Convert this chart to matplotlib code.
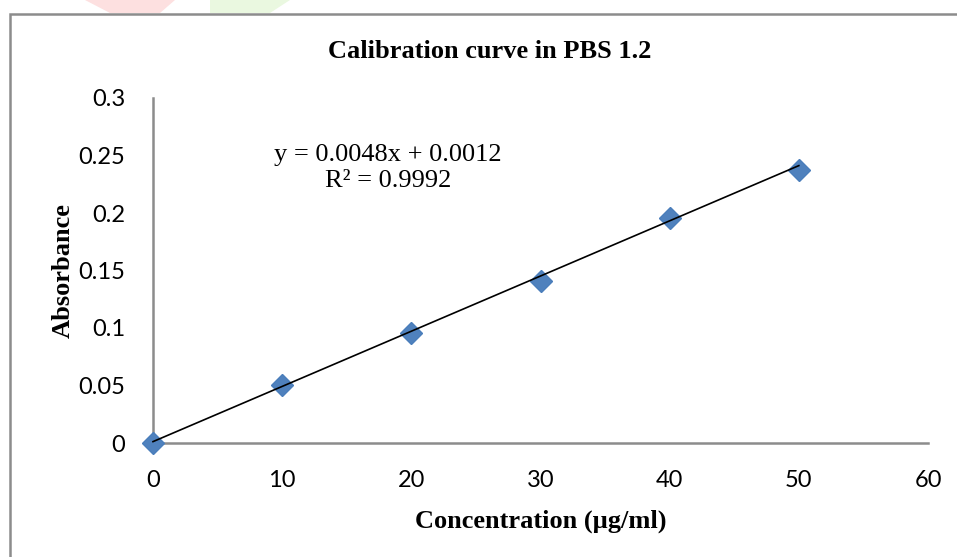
import numpy as np
import matplotlib
matplotlib.use("Agg")
import matplotlib.pyplot as plt
from matplotlib.patches import Rectangle, Polygon

# calibration data
conc = [0, 10, 20, 30, 40, 50]
absorb = [0.0, 0.0504, 0.0957, 0.1409, 0.1957, 0.2374]
slope, intercept = 0.0048, 0.0012
x_ticks = [0, 10, 20, 30, 40, 50, 60]
y_ticks = [0, 0.05, 0.1, 0.15, 0.2, 0.25, 0.3]
y_ticklabels = ["0", "0.05", "0.1", "0.15", "0.2", "0.25", "0.3"]

W, H = 957, 557
fig = plt.figure(figsize=(W / 100, H / 100), dpi=100)

# faint watermark shapes on the top edge
fig.patches.append(Polygon([(85 / W, 1), (175 / W, 1), (160 / W, 1 - 13 / H), (110 / W, 1 - 13 / H)],
                           closed=True, transform=fig.transFigure, facecolor="#fde0e0", edgecolor="none"))
fig.patches.append(Polygon([(210 / W, 1), (290 / W, 1), (270 / W, 1 - 13 / H), (210 / W, 1 - 13 / H)],
                           closed=True, transform=fig.transFigure, facecolor="#eaf8e0", edgecolor="none"))
# outer chart border
fig.patches.append(Rectangle((9.5 / W, -0.1), 1.2, 1 - 13.5 / H + 0.1, transform=fig.transFigure,
                             facecolor="none", edgecolor="#8c8c8c", linewidth=1.8))

ax = fig.add_axes([153 / W, 1 - 443 / H, (928 - 153) / W, (443 - 98) / H])

ax.plot(conc, absorb, linestyle="none", marker="D", markersize=11.5, color="#4f81bd",
        markeredgecolor="#4a7ebb", zorder=3)
xfit = np.array([conc[0], conc[-1]])
ax.plot(xfit, slope * xfit + intercept, color="black", linewidth=1.2, zorder=4)

ax.set_xlim(0, 60)
ax.set_ylim(0, 0.3)
ax.set_xticks(x_ticks)
ax.set_yticks(y_ticks)
ax.set_yticklabels(y_ticklabels)
ax.tick_params(length=0, labelsize=17)
ax.tick_params(axis="x", pad=19.5)
ax.tick_params(axis="y", pad=20)
for lab in ax.get_xticklabels() + ax.get_yticklabels():
    lab.set_family("Lato")

for s in ["top", "right"]:
    ax.spines[s].set_visible(False)
for s in ["left", "bottom"]:
    ax.spines[s].set_color("#8c8c8c")
    ax.spines[s].set_linewidth(1.8)
for ln in ax.lines:
    ln.set_clip_on(False)

ax.set_xlabel("Concentration (\u00b5g/ml)", family="Liberation Serif", fontweight="bold", fontsize=19, labelpad=13)
ax.set_ylabel("Absorbance", family="Liberation Serif", fontweight="bold", fontsize=19, labelpad=2.5)
fig.text(490 / W, 1 - 52 / H, "Calibration curve in PBS 1.2", family="Liberation Serif",
         fontweight="bold", fontsize=19, ha="center", va="center")
ax.text(18.2, 0.239, "y = 0.0048x + 0.0012\nR\u00b2 = 0.9992", family="Liberation Serif",
        fontsize=19, ha="center", va="center", linespacing=1.2)

fig.savefig("out.png", dpi=100)
